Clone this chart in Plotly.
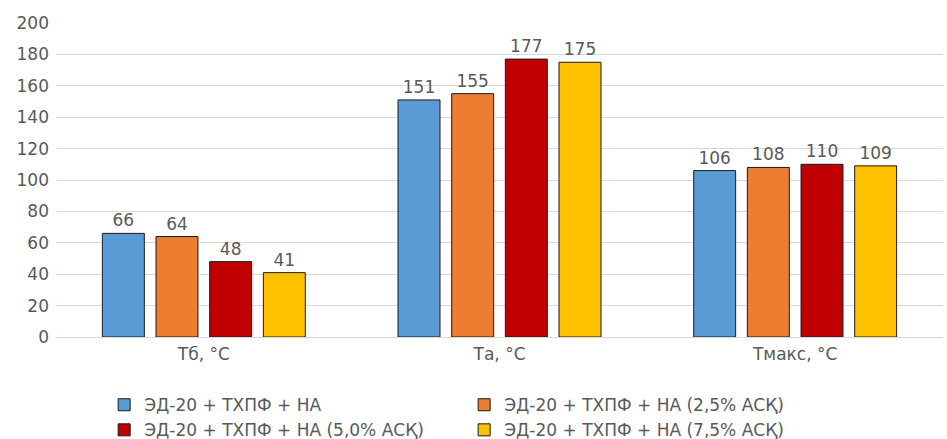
import plotly.graph_objects as go

categories = ["Тб, °C", "Та, °C", "Тмакс, °C"]
series_names = [
    "ЭД-20 + ТХПФ + НА",
    "ЭД-20 + ТХПФ + НА (2,5% АСҚ)",
    "ЭД-20 + ТХПФ + НА (5,0% АСҚ)",
    "ЭД-20 + ТХПФ + НА (7,5% АСҚ)",
]
values_base = [66, 151, 106]
values_25 = [64, 155, 108]
values_50 = [48, 177, 110]
values_75 = [41, 175, 109]
colors = ["#5B9BD5", "#ED7D31", "#C00000", "#FFC000"]
y_ticks = [0, 20, 40, 60, 80, 100, 120, 140, 160, 180, 200]

font_family = "DejaVu Sans, Verdana, sans-serif"
text_color = "#595959"
fs = 17

fig = go.Figure()
for name, vals, col in zip(series_names, [values_base, values_25, values_50, values_75], colors):
    fig.add_trace(go.Bar(
        x=categories, y=vals, name=name,
        marker=dict(color=col, line=dict(color="#1a1a1a", width=1)),
        text=[str(v) for v in vals], textposition="outside",
        textfont=dict(size=fs, color=text_color, family=font_family),
        cliponaxis=False,
    ))

fig.update_layout(
    width=947, height=439,
    margin=dict(l=56, r=4, t=23, b=102),
    paper_bgcolor="white", plot_bgcolor="white",
    barmode="group", bargap=0.274, bargroupgap=0.218,
    font=dict(family=font_family, size=fs, color=text_color),
    showlegend=True,
    legend=dict(
        orientation="h", xref="container", x=0.11, xanchor="left",
        yref="container", y=0.118, yanchor="top",
        entrywidth=315, entrywidthmode="pixels",
        font=dict(size=fs, color=text_color), traceorder="normal",
        itemwidth=30, tracegroupgap=0,
    ),
    xaxis=dict(showgrid=False, showline=False, ticks="", ticklabelstandoff=5,
               tickfont=dict(size=fs, color=text_color)),
    yaxis=dict(range=[0, 200], tickvals=y_ticks, showgrid=True,
               gridcolor="#d9d9d9", gridwidth=1, zeroline=True,
               zerolinecolor="#d9d9d9", zerolinewidth=1, showline=False,
               ticks="", ticklabelstandoff=6,
               tickfont=dict(size=fs, color=text_color)),
)

fig.write_html("out.html")
